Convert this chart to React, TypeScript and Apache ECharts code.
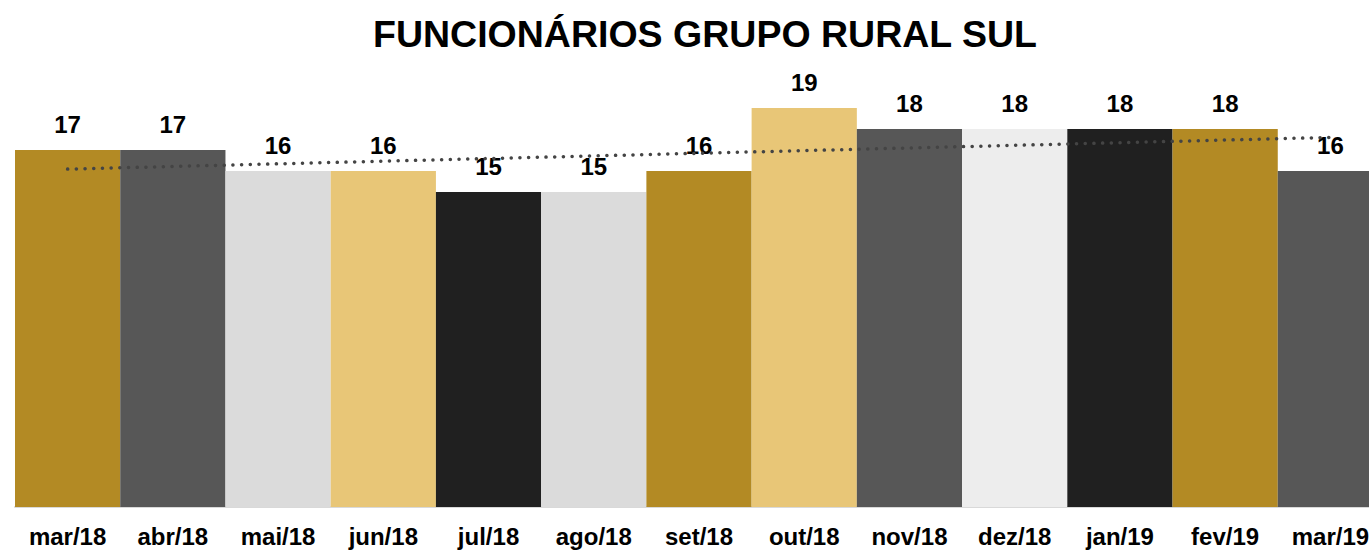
import React, { useEffect, useRef } from "react";
import * as echarts from "echarts";

const categories = ["mar/18", "abr/18", "mai/18", "jun/18", "jul/18", "ago/18", "set/18", "out/18", "nov/18", "dez/18", "jan/19", "fev/19", "mar/19"];
const values = [17, 17, 16, 16, 15, 15, 16, 19, 18, 18, 18, 18, 16];
const barColors = ["#B38A24", "#575757", "#DBDBDB", "#E8C677", "#202020", "#DBDBDB", "#B38A24", "#E8C677", "#575757", "#EDEDED", "#202020", "#B38A24", "#575757"];
// trend line endpoints (first and last category)
const trendEnds = [16.09, 17.6];
const title = "FUNCIONÁRIOS GRUPO RURAL SUL";

const FONT = '"Liberation Sans", Arial, sans-serif';

export default function App() {
  const ref = useRef<HTMLDivElement>(null);
  useEffect(() => {
    if (!ref.current) return;
    const chart = echarts.init(ref.current, null, { renderer: "svg" });
    const trendData = categories.map((_, i) => (i === 0 ? trendEnds[0] : i === categories.length - 1 ? trendEnds[1] : null));
    chart.setOption({
      animation: false,
      backgroundColor: "#ffffff",
      title: {
        text: title,
        left: 700,
        top: 10,
        textAlign: "center",
        textStyle: { fontFamily: FONT, fontWeight: "bold", fontSize: 37.5, color: "#000000" },
      },
      grid: { left: 15, width: 1368, top: 87, bottom: 44, containLabel: false, outerBoundsMode: "none" },
      xAxis: {
        type: "category",
        data: categories,
        axisLine: { show: true, lineStyle: { color: "#D9D9D9", width: 2 } },
        axisTick: { show: false },
        axisLabel: { fontFamily: FONT, fontWeight: "bold", fontSize: 24, color: "#000000", margin: 17, interval: 0 },
      },
      yAxis: { type: "value", min: 0, max: 20, show: false, splitLine: { show: false } },
      series: [
        {
          type: "bar",
          barCategoryGap: "0%",
          data: values.map((v, i) => ({ value: v, itemStyle: { color: barColors[i] } })),
          label: {
            show: true,
            position: "top",
            distance: 14,
            fontFamily: FONT,
            fontWeight: "bold",
            fontSize: 24,
            color: "#000000",
          },
        },
        {
          type: "line",
          z: 5,
          data: trendData,
          connectNulls: true,
          symbol: "none",
          silent: true,
          lineStyle: { color: "#444444", width: 3.5, type: [0.1, 8.6], cap: "round" },
        },
      ],
    });
    return () => chart.dispose();
  }, []);
  return <div ref={ref} style={{ position: "fixed", left: 0, top: 0, width: 1369, height: 551 }} />;
}
